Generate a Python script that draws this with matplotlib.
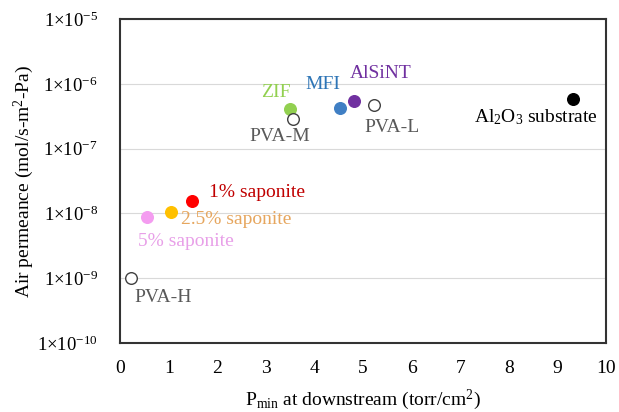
import matplotlib
matplotlib.use("Agg")
import matplotlib.pyplot as plt
from matplotlib.ticker import FixedLocator

plt.rcParams['font.family'] = ['Liberation Serif', 'DejaVu Serif']
plt.rcParams['mathtext.fontset'] = 'custom'
plt.rcParams['mathtext.rm'] = 'Liberation Serif'
plt.rcParams['mathtext.it'] = 'Liberation Serif:italic'

# data
names = ['PVA-H', '5% saponite', '2.5% saponite', '1% saponite', 'ZIF', 'PVA-M',
         'MFI', 'AlSiNT', 'PVA-L', 'Al$_2$O$_3$ substrate']
p_min = [0.23, 0.56, 1.05, 1.48, 3.50, 3.55, 4.52, 4.82, 5.22, 9.32]
permeance = [1.0e-9, 8.7e-9, 1.05e-8, 1.55e-8, 4.1e-7, 2.9e-7, 4.2e-7, 5.4e-7, 4.7e-7, 5.8e-7]
marker_colors = ['white', '#F49CF0', '#FFC000', '#FF0000', '#92D050', 'white',
                 '#3F7FC4', '#7030A0', 'white', 'black']
label_colors = ['#595959', '#E8A0E8', '#E6A65E', '#C00000', '#92D050', '#595959',
                '#2E75B6', '#7030A0', '#595959', 'black']
# label offsets in points (dx, dy) from each marker
label_offsets = [(2, -14), (-7, -17), (7, -5), (12, 6), (-21, 12), (-31, -13),
                 (-25, 17), (-3, 20), (-7, -16), (-71, -13)]

y_ticks = [1e-10, 1e-9, 1e-8, 1e-7, 1e-6, 1e-5]
x_ticks = list(range(0, 11))

fig = plt.figure(figsize=(6.19, 4.12), dpi=100)
ax = fig.add_axes([0.194, 0.167, 0.785, 0.787])

for x, y, mc, name, lc, off in zip(p_min, permeance, marker_colors, names, label_colors, label_offsets):
    edge = '#404040' if mc == 'white' else mc
    ax.scatter(x, y, s=70, facecolor=mc, edgecolor=edge, linewidth=1.0, zorder=3)
    ax.annotate(name, (x, y), xytext=off, textcoords='offset points',
                ha='left', va='center', fontsize=14, color=lc)

ax.set_yscale('log')
ax.set_ylim(1e-10, 1e-5)
ax.set_xlim(0, 10)
ax.yaxis.set_major_locator(FixedLocator(y_ticks))
ax.yaxis.set_minor_locator(FixedLocator([]))
ax.set_yticks(y_ticks)
ax.set_yticklabels(['1\u00d710$^{%d}$' % e for e in range(-10, -4)])
ax.set_xticks(x_ticks)
ax.tick_params(axis='x', length=0, labelsize=14, pad=12)
ax.tick_params(axis='y', length=0, labelsize=13.5, pad=16)
ax.grid(axis='y', color='#D9D9D9', linewidth=0.8)
ax.set_axisbelow(True)
for sp in ax.spines.values():
    sp.set_linewidth(1.5)
    sp.set_color('#333333')

ax.set_xlabel('P$_{\\rm min}$ at downstream (torr/cm$^2$)', fontsize=14, labelpad=8)
ax.set_ylabel('Air permeance (mol/s-m$^2$-Pa)', fontsize=14, labelpad=1)

fig.savefig('out.png', dpi=100)
